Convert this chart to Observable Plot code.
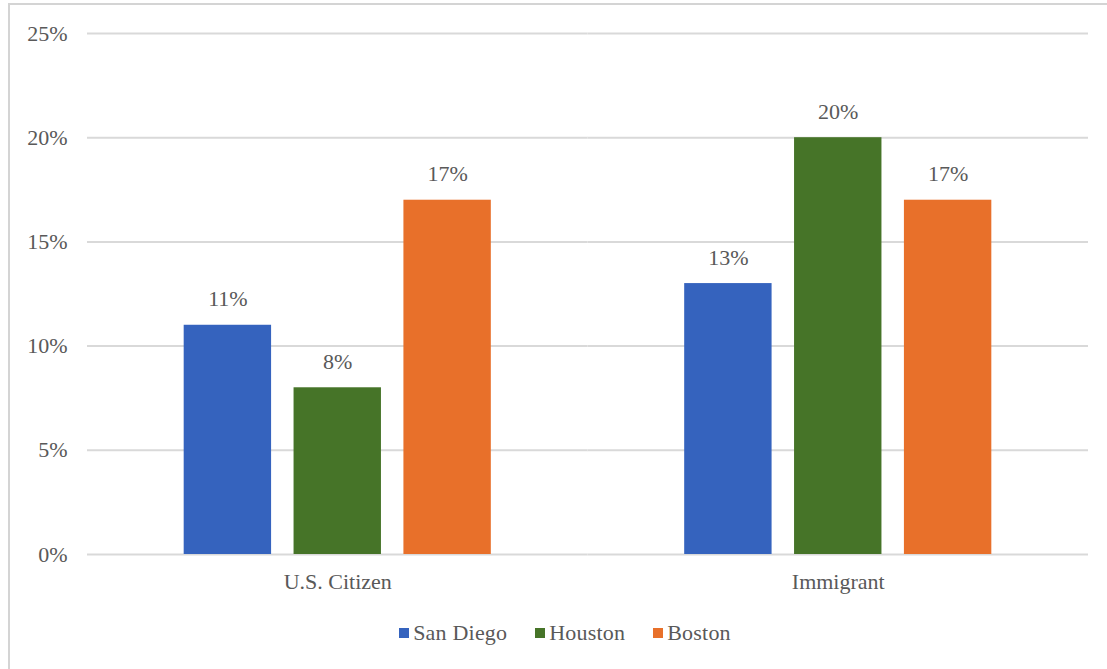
<!DOCTYPE html>
<html>
<head>
<meta charset="utf-8">
<script src="https://cdn.jsdelivr.net/npm/d3@7"></script>
<script src="https://cdn.jsdelivr.net/npm/@observablehq/plot@0.6"></script>
<style>
  html, body { margin: 0; padding: 0; background: #fff; width: 1107px; height: 669px; overflow: hidden; }
  #frame { position: absolute; left: 8px; top: 3px; width: 1200px; height: 800px;
           border-top: 2px solid #d4d4d4; border-left: 2px solid #d4d4d4; }
  #chart { position: absolute; left: 0; top: 0; }
  #legend { position: absolute; left: 0; top: 620px; width: 1107px; display: flex; justify-content: center;
            font-family: "Liberation Serif", "Times New Roman", serif; font-size: 22px; color: #595959; padding-left: 23px; box-sizing: border-box; letter-spacing: 0.2px; }
  .item { display: flex; align-items: center; margin: 0 14px; }
  .sw { width: 10px; height: 10px; margin-right: 4px; }
</style>
</head>
<body>
<div id="frame"></div>
<div id="chart"></div>
<div id="legend"></div>
<script>
const groups = ["U.S. Citizen", "Immigrant"];
const cities = ["San Diego", "Houston", "Boston"];
const sanDiego = [11, 13];
const houston = [8, 20];
const boston = [17, 17];
const yTicks = [0, 5, 10, 15, 20, 25];
const colors = ["#3563BE", "#467428", "#E8702A"];

const seriesValues = [sanDiego, houston, boston];
const data = [];
groups.forEach((g, gi) => {
  cities.forEach((c, ci) => {
    data.push({group: g, city: c, value: seriesValues[ci][gi]});
  });
});

const font = '"Liberation Serif", "Times New Roman", serif';
const plot = Plot.plot({
  width: 1107,
  height: 610,
  marginTop: 33,
  marginBottom: 56,
  marginLeft: 87,
  marginRight: 19,
  style: {fontFamily: font, fontSize: "22px", color: "#595959", background: "transparent"},
  fx: {domain: groups, paddingInner: 0, paddingOuter: 0, round: false, label: null},
  x: {domain: cities, paddingInner: 0.2045, paddingOuter: 0.88, round: false, axis: null},
  y: {domain: [0, 25], label: null},
  color: {domain: cities, range: colors},
  marks: [
    Plot.ruleY(yTicks, {stroke: "#d9d9d9", strokeWidth: 2, strokeOpacity: 1}),
    Plot.barY(data, {fx: "group", x: "city", y: "value", fill: "city"}),
    Plot.text(data, {fx: "group", x: "city", y: "value", text: d => d.value + "%", dy: -26, lineAnchor: "middle", fill: "#595959", fontSize: 22}),
    Plot.axisY({ticks: yTicks, tickFormat: d => d + "%", tickSize: 0, tickPadding: 20, label: null, fontSize: 22}),
    Plot.axisFx({anchor: "bottom", tickSize: 0, tickPadding: 19, label: null, fontSize: 22})
  ]
});
document.getElementById("chart").appendChild(plot);

const legend = document.getElementById("legend");
cities.forEach((c, i) => {
  const it = document.createElement("div");
  it.className = "item";
  const sw = document.createElement("div");
  sw.className = "sw";
  sw.style.background = colors[i];
  const t = document.createElement("span");
  t.textContent = c;
  it.appendChild(sw); it.appendChild(t);
  legend.appendChild(it);
});
</script>
</body>
</html>
